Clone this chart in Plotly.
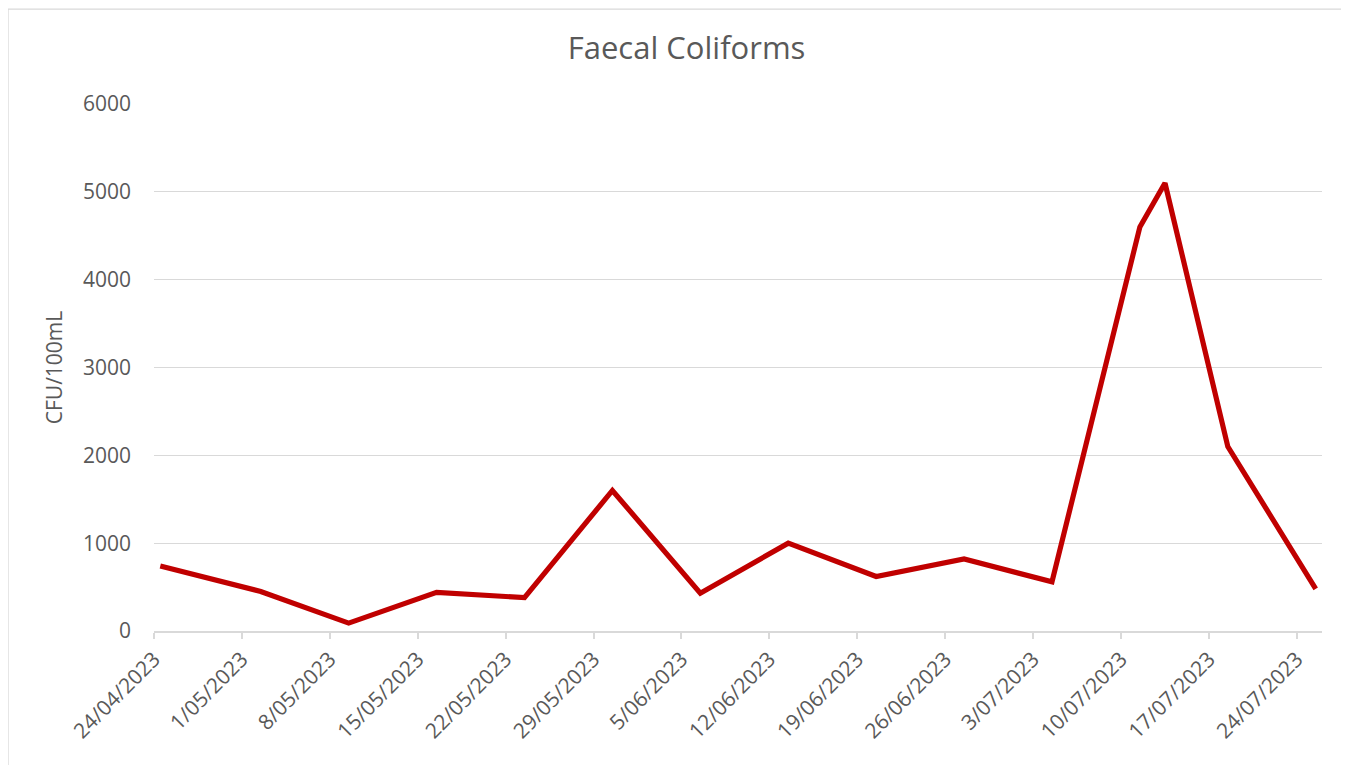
import pandas as pd
import plotly.graph_objects as go

# Data
sample_dates = ["2023-04-24", "2023-05-02", "2023-05-09", "2023-05-16", "2023-05-23",
                "2023-05-30", "2023-06-06", "2023-06-13", "2023-06-20", "2023-06-27",
                "2023-07-04", "2023-07-11", "2023-07-13", "2023-07-18", "2023-07-25"]
cfu_values = [740, 450, 90, 440, 380, 1600, 430, 1000, 620, 820, 560, 4600, 5100, 2100, 480]
tick_dates = ["2023-04-24", "2023-05-01", "2023-05-08", "2023-05-15", "2023-05-22",
              "2023-05-29", "2023-06-05", "2023-06-12", "2023-06-19", "2023-06-26",
              "2023-07-03", "2023-07-10", "2023-07-17", "2023-07-24"]
tick_labels = ["24/04/2023", "1/05/2023", "8/05/2023", "15/05/2023", "22/05/2023",
               "29/05/2023", "5/06/2023", "12/06/2023", "19/06/2023", "26/06/2023",
               "3/07/2023", "10/07/2023", "17/07/2023", "24/07/2023"]
y_ticks = [0, 1000, 2000, 3000, 4000, 5000, 6000]

# Excel-style date axis: points centred within their day slot
x_pts = pd.to_datetime(sample_dates) + pd.Timedelta(hours=12)

FONT = "Open Sans"
GREY = "#595959"
GRID = "#D9D9D9"

fig = go.Figure()
fig.add_trace(go.Scatter(
    x=x_pts, y=cfu_values, mode="lines",
    line=dict(color="#C00000", width=5.2),
    showlegend=False, hoverinfo="x+y"))

fig.update_layout(
    width=1341, height=757,
    paper_bgcolor="white", plot_bgcolor="white",
    margin=dict(l=146, r=27, t=96, b=134),
    title=dict(text="Faecal Coliforms", x=0.506, xref="container", xanchor="center",
               y=0.947, yanchor="middle",
               font=dict(family=FONT, size=31, color=GREY)),
    font=dict(family=FONT, color=GREY),
    xaxis=dict(
        type="date",
        range=["2023-04-24", "2023-07-26"],
        tickmode="array", tickvals=pd.to_datetime(tick_dates), ticktext=tick_labels,
        tickangle=-45, tickfont=dict(size=21, color=GREY),
        showgrid=False, showline=True, linecolor=GRID, linewidth=1.5,
        ticks="outside", ticklen=6, tickcolor=GRID, tickwidth=1.5,
        zeroline=False, fixedrange=True),
    yaxis=dict(
        range=[0, 6000], tickmode="array", tickvals=y_ticks,
        tickfont=dict(size=21, color=GREY),
        showgrid=True, gridcolor=GRID, gridwidth=1.3,
        showline=False, zeroline=False, ticks="", ticklabelstandoff=22,
        title=dict(text="CFU/100mL", font=dict(size=21, color=GREY), standoff=14),
        fixedrange=True),
    shapes=[dict(type="rect", xref="paper", yref="paper",
                 x0=-0.125, x1=1.0197, y0=-0.26, y1=1.180,
                 line=dict(color=GRID, width=1.3), fillcolor="rgba(0,0,0,0)")],
)

fig.write_html("out.html")
